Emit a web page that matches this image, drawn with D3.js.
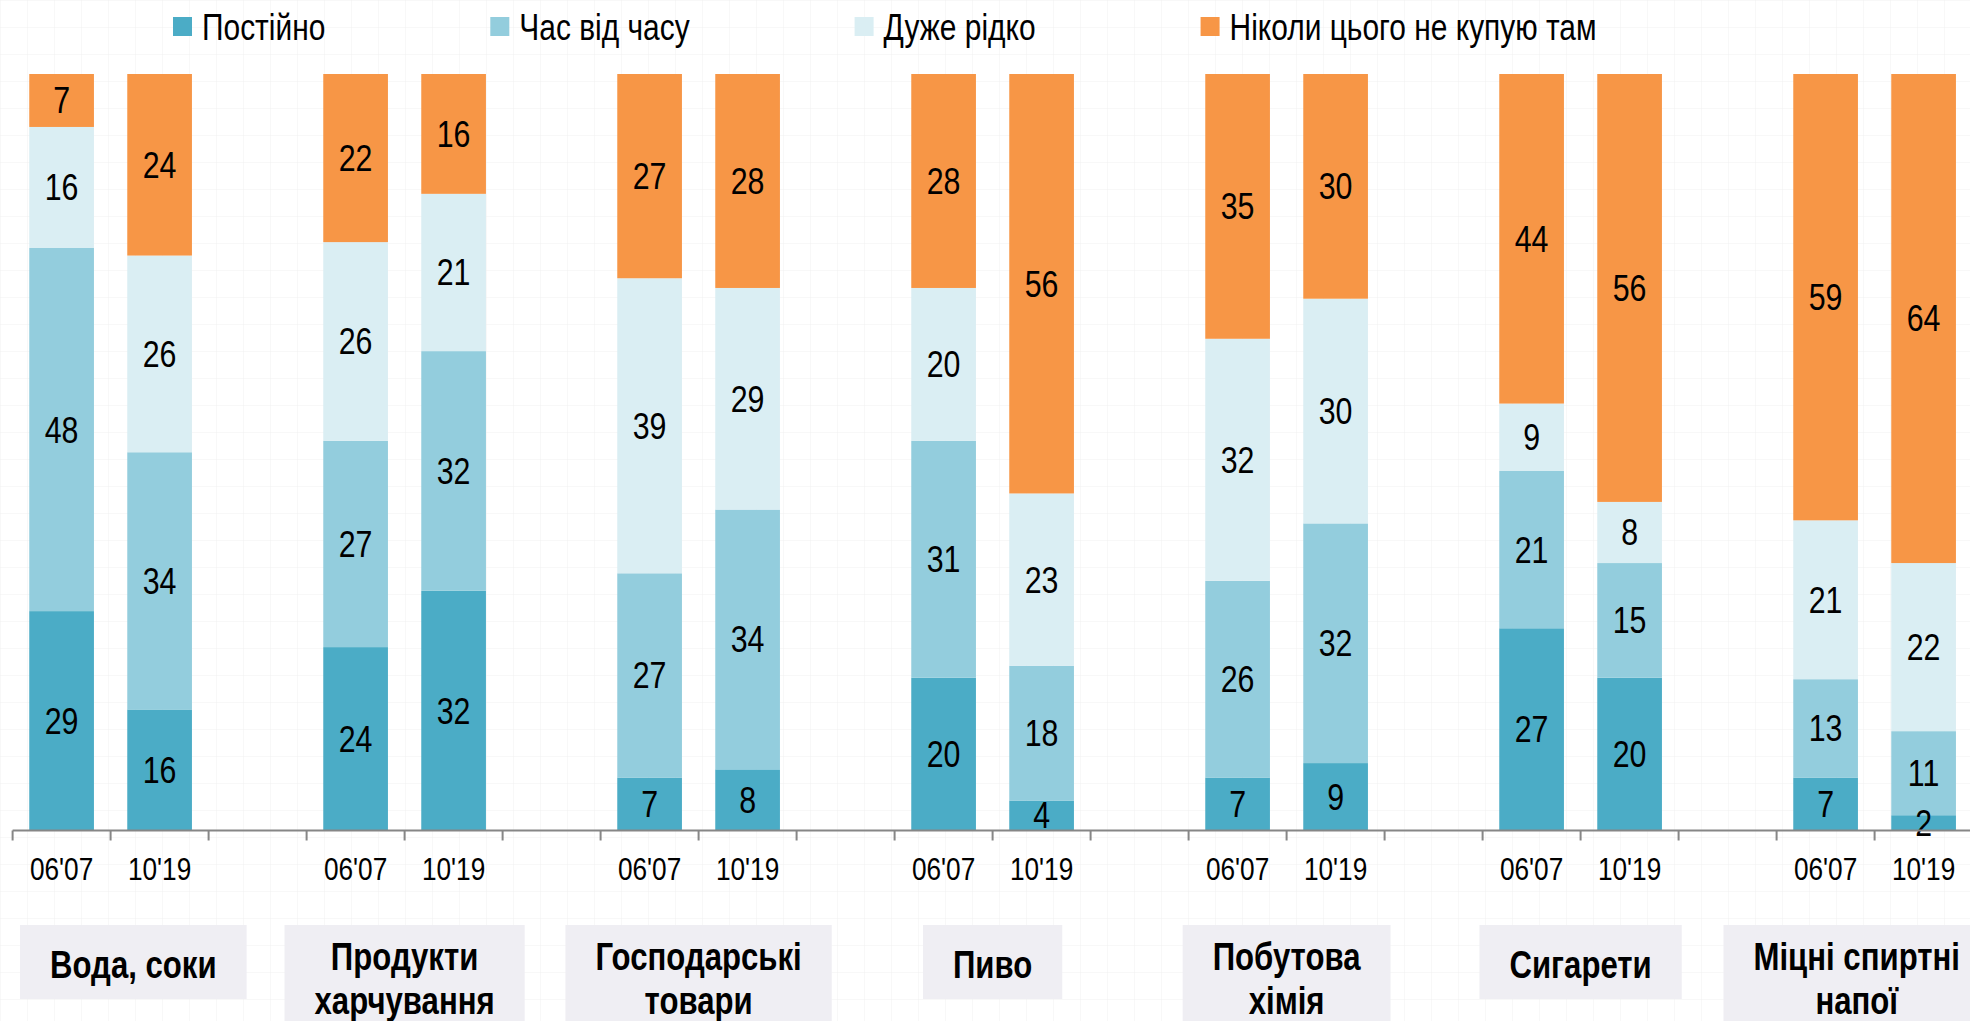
<!DOCTYPE html>
<html>
<head>
<meta charset="utf-8">
<script src="https://cdn.jsdelivr.net/npm/d3@7"></script>
<style>
  html, body { margin: 0; padding: 0; background: #ffffff; }
  svg { display: block; }
</style>
</head>
<body>
<svg id="chart" width="1970" height="1021"></svg>
<script>
// ---------------- DATA ----------------
const categories = ["Вода, соки", "Продукти харчування", "Господарські товари", "Пиво", "Побутова хімія", "Сигарети", "Міцні спиртні напої"];
const categoryLines = [["Вода, соки"], ["Продукти", "харчування"], ["Господарські", "товари"], ["Пиво"], ["Побутова", "хімія"], ["Сигарети"], ["Міцні спиртні", "напої"]];
const periods = ["06'07", "10'19"];
const seriesNames = ["Постійно", "Час від часу", "Дуже рідко", "Ніколи цього не купую там"];
// values per category: [06'07, 10'19]
const constantly = [[29, 16], [24, 32], [7, 8], [20, 4], [7, 9], [27, 20], [7, 2]];
const sometimes  = [[48, 34], [27, 32], [27, 34], [31, 18], [26, 32], [21, 15], [13, 11]];
const rarely     = [[16, 26], [26, 21], [39, 29], [20, 23], [32, 30], [9, 8], [21, 22]];
const never      = [[7, 24], [22, 16], [27, 28], [28, 56], [35, 30], [44, 56], [59, 64]];
const seriesColors = ["#4BACC6", "#93CDDD", "#DAEEF3", "#F79646"];

// ---------------- FONT ----------------
const ctx = document.createElement("canvas").getContext("2d");
ctx.font = "40px 'Liberation Sans Narrow', 'Liberation Sans'";
const wN = ctx.measureText("Постійно 0123456789").width;
ctx.font = "40px 'Liberation Sans'";
const wR = ctx.measureText("Постійно 0123456789").width;
const hasNarrow = wN < wR * 0.92;
const FAMILY = hasNarrow ? "'Liberation Sans Narrow', 'Arial Narrow', sans-serif" : "'Liberation Sans', Arial, sans-serif";
const SX = hasNarrow ? 1 : 0.82;

const svg = d3.select("#chart");
const W = 1970, H = 1021;

// faint paper grid background
const defs = svg.append("defs");
const pat = defs.append("pattern").attr("id", "grid").attr("width", 27).attr("height", 27).attr("patternUnits", "userSpaceOnUse");
pat.append("rect").attr("width", 27).attr("height", 27).attr("fill", "#ffffff");
pat.append("path").attr("d", "M27 0 L0 0 0 27").attr("fill", "none").attr("stroke", "#f1f1f1").attr("stroke-width", 1);
svg.append("rect").attr("width", W).attr("height", H).attr("fill", "url(#grid)");

function addText(g, x, y, str, o = {}) {
  return g.append("text")
    .attr("transform", `translate(${x},${y}) scale(${SX},1)`)
    .attr("text-anchor", o.anchor || "middle")
    .attr("dy", o.dy || "0.35em")
    .attr("font-family", FAMILY)
    .attr("font-size", o.size || 35)
    .attr("font-weight", o.weight || "normal")
    .attr("fill", o.fill || "#000")
    .text(str);
}

// ---------------- SCALES ----------------
const slots = [];
categories.forEach((c, i) => { periods.forEach(p => slots.push(`${i}|${p}`)); slots.push(`${i}|gap`); });
const x0 = 12.6, step = 98;
const x = d3.scaleBand().domain(slots).range([x0, x0 + step * slots.length]).paddingInner(0).paddingOuter(0);
const barFrac = 0.66;
const barW = x.bandwidth() * barFrac;
const y = d3.scaleLinear().domain([0, 1]).range([830.5, 74]);

// rows for stack
const rows = [];
categories.forEach((c, i) => periods.forEach((p, j) => {
  rows.push({ key: `${i}|${p}`, period: p, cat: i,
    [seriesNames[0]]: constantly[i][j], [seriesNames[1]]: sometimes[i][j],
    [seriesNames[2]]: rarely[i][j], [seriesNames[3]]: never[i][j] });
}));
const stacked = d3.stack().keys(seriesNames).offset(d3.stackOffsetExpand)(rows);

// ---------------- BARS ----------------
const gBars = svg.append("g");
stacked.forEach((layer, si) => {
  const g = gBars.append("g").attr("fill", seriesColors[si]);
  g.selectAll("rect").data(layer).join("rect")
    .attr("x", d => x(d.data.key) + (x.bandwidth() - barW) / 2)
    .attr("width", barW)
    .attr("y", d => y(d[1]))
    .attr("height", d => y(d[0]) - y(d[1]));
});
// labels
const gLab = svg.append("g");
stacked.forEach((layer, si) => {
  layer.forEach(d => {
    addText(gLab, x(d.data.key) + x.bandwidth() / 2, (y(d[0]) + y(d[1])) / 2, d.data[seriesNames[si]], { size: 37 });
  });
});

// ---------------- AXIS ----------------
const gAxis = svg.append("g");
gAxis.append("line").attr("x1", x0).attr("x2", W).attr("y1", y(0)).attr("y2", y(0))
  .attr("stroke", "#868686").attr("stroke-width", 2);
slots.forEach(s => {
  gAxis.append("line").attr("x1", x(s)).attr("x2", x(s)).attr("y1", y(0)).attr("y2", y(0) + 10)
    .attr("stroke", "#868686").attr("stroke-width", 2);
});
rows.forEach(r => addText(gAxis, x(r.key) + x.bandwidth() / 2, 869, r.period, { size: 32 }));

// ---------------- CATEGORY BOXES ----------------
const gCat = svg.append("g");
categories.forEach((c, i) => {
  const cx = (x(`${i}|${periods[0]}`) + x(`${i}|${periods[1]}`) + x.bandwidth()) / 2;
  const lines = categoryLines[i];
  const g = gCat.append("g");
  const box = g.append("rect");
  let maxW = 0;
  const single = lines.length === 1;
  const ly = k => single ? 965 : 957 + k * 44;
  const tEls = lines.map((ln, k) => {
    const t = addText(g, 0, ly(k), ln, { size: 38, weight: "bold" });
    maxW = Math.max(maxW, t.node().getComputedTextLength() * SX);
    return t;
  });
  const pad = 30;
  const bw = maxW + 2 * pad;
  let left = cx - bw / 2;
  left = Math.max(20, Math.min(left, W + 20 - bw));
  const tx = left + bw / 2;
  tEls.forEach((t, k) => t.attr("transform", `translate(${tx},${ly(k)}) scale(${SX},1)`));
  box.attr("x", left).attr("y", 925).attr("width", bw).attr("height", single ? 74 : 110).attr("fill", "#EFEEF3");
});

// ---------------- LEGEND ----------------
const gLeg = svg.append("g");
let lx = 173;
seriesNames.forEach((s, i) => {
  gLeg.append("rect").attr("x", lx).attr("y", 17).attr("width", 19).attr("height", 19).attr("fill", seriesColors[i]);
  const t = addText(gLeg, lx + 29, 27, s, { size: 36.5, anchor: "start" });
  const tw = t.node().getComputedTextLength() * SX;
  lx += 29 + tw + 165;
});
</script>
</body>
</html>
